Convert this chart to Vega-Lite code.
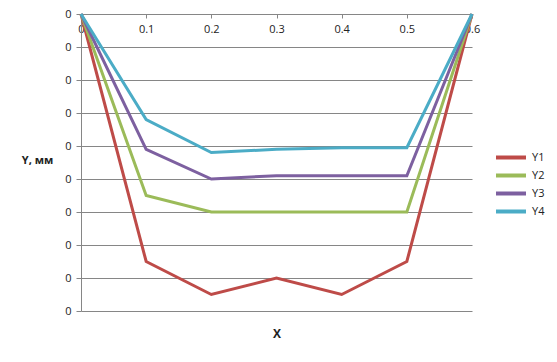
{
  "$schema": "https://vega.github.io/schema/vega-lite/v6.json",
  "width": 391,
  "height": 297,
  "autosize": "none",
  "padding": {"left": 81, "top": 14, "right": 85, "bottom": 51},
  "background": "white",
  "config": {
    "view": {"stroke": null},
    "font": "Open Sans",
    "axis": {"labelFont": "Open Sans", "labelFontSize": 11, "labelColor": "#222", "titleFont": "Open Sans", "titleColor": "#222"}
  },
  "data": {
    "values": [
      {"x": 0, "y": 0, "series": "Y1"},
      {"x": 0.1, "y": -0.0075, "series": "Y1"},
      {"x": 0.2, "y": -0.0085, "series": "Y1"},
      {"x": 0.3, "y": -0.008, "series": "Y1"},
      {"x": 0.4, "y": -0.0085, "series": "Y1"},
      {"x": 0.5, "y": -0.0075, "series": "Y1"},
      {"x": 0.6, "y": 0, "series": "Y1"},
      {"x": 0, "y": 0, "series": "Y2"},
      {"x": 0.1, "y": -0.0055, "series": "Y2"},
      {"x": 0.2, "y": -0.006, "series": "Y2"},
      {"x": 0.3, "y": -0.006, "series": "Y2"},
      {"x": 0.4, "y": -0.006, "series": "Y2"},
      {"x": 0.5, "y": -0.006, "series": "Y2"},
      {"x": 0.6, "y": 0, "series": "Y2"},
      {"x": 0, "y": 0, "series": "Y3"},
      {"x": 0.1, "y": -0.0041, "series": "Y3"},
      {"x": 0.2, "y": -0.005, "series": "Y3"},
      {"x": 0.3, "y": -0.0049, "series": "Y3"},
      {"x": 0.4, "y": -0.0049, "series": "Y3"},
      {"x": 0.5, "y": -0.0049, "series": "Y3"},
      {"x": 0.6, "y": 0, "series": "Y3"},
      {"x": 0, "y": 0, "series": "Y4"},
      {"x": 0.1, "y": -0.0032, "series": "Y4"},
      {"x": 0.2, "y": -0.0042, "series": "Y4"},
      {"x": 0.3, "y": -0.0041, "series": "Y4"},
      {"x": 0.4, "y": -0.00405, "series": "Y4"},
      {"x": 0.5, "y": -0.00405, "series": "Y4"},
      {"x": 0.6, "y": 0, "series": "Y4"}
    ]
  },
  "mark": {"type": "line", "strokeWidth": 3, "strokeJoin": "miter"},
  "encoding": {
    "x": {
      "field": "x", "type": "quantitative",
      "scale": {"domain": [0, 0.6], "nice": false, "zero": false},
      "axis": {
        "orient": "bottom", "offset": -297, "values": [0, 0.1, 0.2, 0.3, 0.4, 0.5, 0.6],
        "format": ".1~f", "grid": false, "domainColor": "#868686", "tickColor": "#868686",
        "tickSize": 4, "labelPadding": 5, "labelFlush": false,
        "title": "X", "titleFontSize": 12, "titleFontWeight": "bold",
        "titleY": 319, "titleBaseline": "middle"
      }
    },
    "y": {
      "field": "y", "type": "quantitative",
      "scale": {"domain": [-0.009, 0], "nice": false, "zero": false},
      "axis": {
        "values": [0, -0.001, -0.002, -0.003, -0.004, -0.005, -0.006, -0.007, -0.008, -0.009],
        "labelExpr": "'0'", "grid": true, "gridColor": "#868686", "domainColor": "#868686",
        "tickColor": "#868686", "tickSize": 5, "labelPadding": 5,
        "title": "Y, мм", "titleAngle": 0, "titleFontSize": 11, "titleFontWeight": "bold",
        "titleX": -44, "titleY": 146, "titleAlign": "center", "titleBaseline": "middle"
      }
    },
    "color": {
      "field": "series", "type": "nominal",
      "scale": {"domain": ["Y1", "Y2", "Y3", "Y4"], "range": ["#BE4B48", "#9BBB59", "#7D60A0", "#4BACC6"]},
      "legend": {
        "title": null, "orient": "none", "legendX": 413, "legendY": 134,
        "symbolType": "M-1,0H3", "symbolSize": 225, "symbolStrokeWidth": 4,
        "labelFont": "Open Sans", "labelFontSize": 11, "labelColor": "#222",
        "labelOffset": 19, "rowPadding": -1
      }
    }
  }
}
